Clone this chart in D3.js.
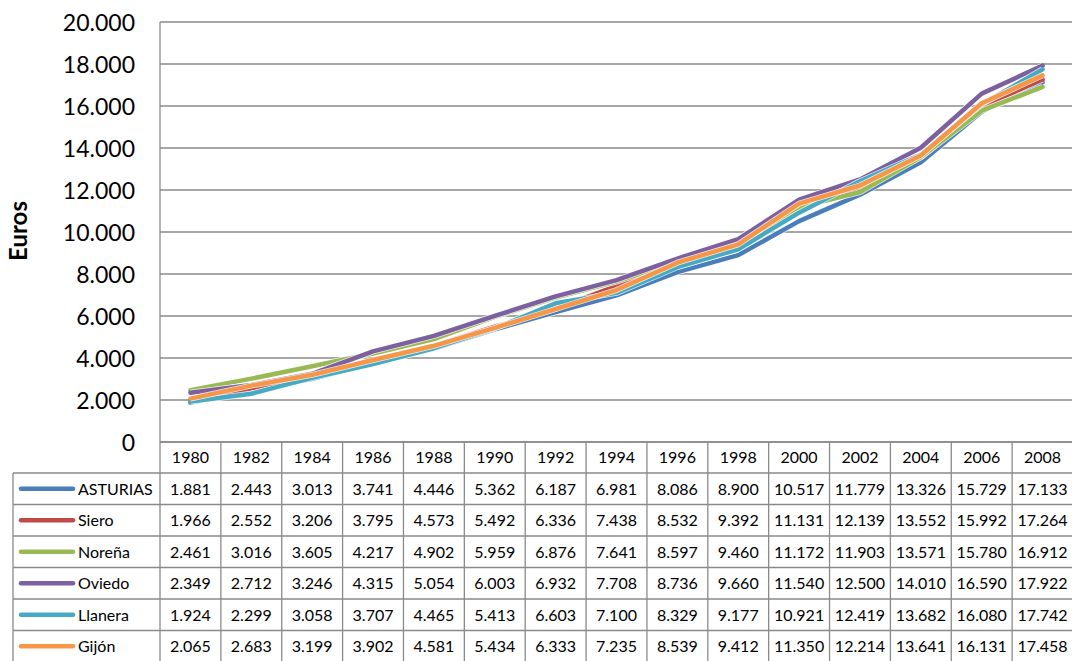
<!DOCTYPE html>
<html>
<head>
<meta charset="utf-8">
<script src="https://cdn.jsdelivr.net/npm/d3@7"></script>
<style>
  html, body { margin: 0; padding: 0; background: #fff; }
  svg { display: block; }
</style>
</head>
<body>
<svg id="chart" width="1072" height="661"></svg>
<script>
// ---- Data ----
const years = ["1980","1982","1984","1986","1988","1990","1992","1994","1996","1998","2000","2002","2004","2006","2008"];
const seriesNames = ["ASTURIAS","Siero","Noreña","Oviedo","Llanera","Gijón"];
const asturias = [1881,2443,3013,3741,4446,5362,6187,6981,8086,8900,10517,11779,13326,15729,17133];
const siero    = [1966,2552,3206,3795,4573,5492,6336,7438,8532,9392,11131,12139,13552,15992,17264];
const norena   = [2461,3016,3605,4217,4902,5959,6876,7641,8597,9460,11172,11903,13571,15780,16912];
const oviedo   = [2349,2712,3246,4315,5054,6003,6932,7708,8736,9660,11540,12500,14010,16590,17922];
const llanera  = [1924,2299,3058,3707,4465,5413,6603,7100,8329,9177,10921,12419,13682,16080,17742];
const gijon    = [2065,2683,3199,3902,4581,5434,6333,7235,8539,9412,11350,12214,13641,16131,17458];
const yTicks = [0,2000,4000,6000,8000,10000,12000,14000,16000,18000,20000];
const yTitle = "Euros";
const colors = ["#4A7EBB","#BE4B48","#98B954","#7D60A0","#46AAC5","#F79646"];

const seriesValues = [asturias, siero, norena, oviedo, llanera, gijon];
const series = seriesNames.map((n, i) => ({ name: n, values: seriesValues[i], color: colors[i] }));

// ---- Layout ----
const plotLeft = 160, plotRight = 1073, plotTop = 22, plotBottom = 442;
const tableLeft = 13;
const headerH = 31;
const rowH = 31.5;
const tableBottom = plotBottom + headerH + rowH * series.length;
const font = "Lato, 'Open Sans', sans-serif";
const gridColor = "#8a8a8a";

const svg = d3.select("#chart");

const x = d3.scaleBand().domain(years).range([plotLeft, plotRight]).padding(0);
const y = d3.scaleLinear().domain([0, 20000]).range([plotBottom, plotTop]);

const fmt = v => d3.format(",")(v).replace(/,/g, ".");

// gridlines
svg.append("g").selectAll("line").data(yTicks).join("line")
  .attr("x1", plotLeft).attr("x2", plotRight)
  .attr("y1", d => y(d)).attr("y2", d => y(d))
  .attr("stroke", gridColor).attr("stroke-width", 1.3);

// y axis labels
const yAxis = d3.axisLeft(y).tickValues(yTicks).tickFormat(fmt).tickSize(0).tickPadding(0);
const yg = svg.append("g").attr("transform", `translate(135,0)`).call(yAxis);
yg.select(".domain").remove();
yg.selectAll("text").attr("font-family", font).attr("font-size", 23).attr("fill", "#000")
  .attr("dy", "0.36em");

// y title
svg.append("text")
  .attr("transform", `translate(27,231) rotate(-90)`)
  .attr("text-anchor", "middle")
  .attr("font-family", font).attr("font-weight", "bold").attr("font-size", 24)
  .attr("fill", "#000")
  .text(yTitle);

// ---- Table grid ----
const tg = svg.append("g").attr("stroke", gridColor).attr("stroke-width", 1.3).attr("fill", "none");
tg.append("line").attr("x1", plotLeft).attr("x2", plotLeft).attr("y1", plotTop).attr("y2", tableBottom);
tg.append("line").attr("x1", plotLeft).attr("x2", plotRight).attr("y1", plotBottom).attr("y2", plotBottom);
for (let r = 0; r <= series.length; r++) {
  const yy = plotBottom + headerH + r * rowH;
  tg.append("line").attr("x1", tableLeft).attr("x2", plotRight).attr("y1", yy).attr("y2", yy);
}
tg.append("line").attr("x1", tableLeft).attr("x2", tableLeft)
  .attr("y1", plotBottom + headerH).attr("y2", tableBottom);
years.forEach((yr, i) => {
  if (i === 0) return;
  const xx = x(yr);
  tg.append("line").attr("x1", xx).attr("x2", xx).attr("y1", plotBottom).attr("y2", tableBottom);
});

// header text
svg.append("g").selectAll("text").data(years).join("text")
  .attr("x", d => x(d) + x.bandwidth() / 2)
  .attr("y", plotBottom + headerH / 2)
  .attr("dy", "0.36em")
  .attr("text-anchor", "middle")
  .attr("font-family", font).attr("font-size", 16).attr("fill", "#000")
  .text(d => d);

// rows
series.forEach((s, r) => {
  const cy = plotBottom + headerH + r * rowH + rowH / 2;
  const g = svg.append("g");
  g.append("line").attr("x1", 21).attr("x2", 73).attr("y1", cy).attr("y2", cy)
    .attr("stroke", s.color).attr("stroke-width", 4.5).attr("stroke-linecap", "round");
  g.append("text").attr("x", 78).attr("y", cy).attr("dy", "0.36em")
    .attr("font-family", font).attr("font-size", 16).attr("fill", "#000")
    .text(s.name);
  g.selectAll("text.v").data(s.values).join("text").attr("class", "v")
    .attr("x", (d, i) => x(years[i]) + x.bandwidth() / 2)
    .attr("y", cy).attr("dy", "0.36em")
    .attr("text-anchor", "middle")
    .attr("font-family", font).attr("font-size", 16).attr("fill", "#000")
    .text(d => fmt(d));
});

// ---- Lines ----
const line = d3.line()
  .x((d, i) => x(years[i]) + x.bandwidth() / 2)
  .y(d => y(d));

const lg = svg.append("g");
series.forEach(s => {
  lg.append("path").attr("d", line(s.values)).attr("fill", "none")
    .attr("stroke", "#fff").attr("stroke-width", 6).attr("stroke-linejoin", "round").attr("stroke-opacity", 0.8);
  lg.append("path").attr("d", line(s.values)).attr("fill", "none")
    .attr("stroke", s.color).attr("stroke-width", 4.5).attr("stroke-linejoin", "round").attr("stroke-linecap", "round");
});
</script>
</body>
</html>
